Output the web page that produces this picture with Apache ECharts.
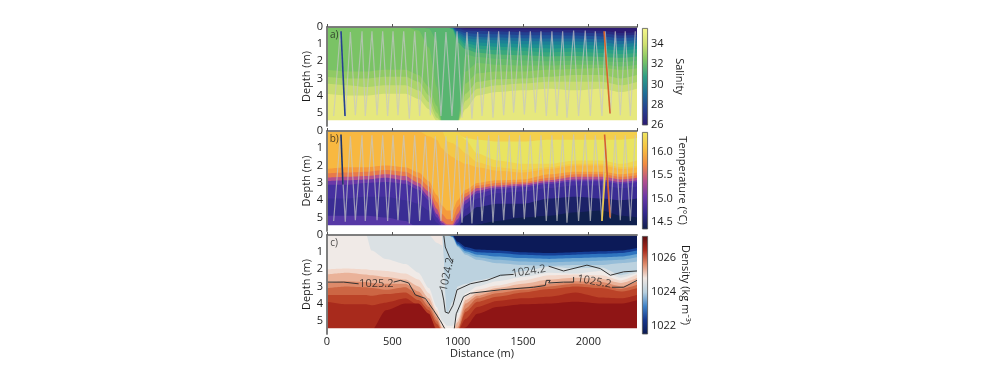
<!DOCTYPE html>
<html><head><meta charset="utf-8">
<style>html,body{margin:0;padding:0;background:#fff}#c{width:998px;height:381px}#c canvas{filter:blur(0.5px)}</style>
<script src="https://cdn.jsdelivr.net/npm/echarts@6/dist/echarts.min.js"></script>
</head><body><div id="c"></div>
<script>
// ---------- Salinity: depth of the upper edge of each filled level ----------
const salDist = [0,150,300,450,600,700,780,840,880,920,960,1000,1060,1150,1300,1500,1700,1900,2100,2250,2375];
const sal0 = [0,0,0,0,0,0,0,0,0,0,0,0,0,0,0,0,0,0,0,0,0];
const sal1 = [0,0,0,0,0,0,0,0,0,0,.01,.05,.1,.12,.14,.15,.16,.18,.22,.35,.3];
const sal2 = [0,0,0,0,0,0,0,0,0,0,.02,.1,.2,.22,.27,.3,.3,.32,.37,.5,.45];
const sal3 = [0,0,0,0,0,0,0,0,0,0,.03,.2,.35,.4,.43,.48,.48,.5,.55,.65,.6];
const sal4 = [0,0,0,0,0,0,0,0,0,0,.04,.3,.5,.58,.62,.65,.67,.67,.72,.82,.75];
const sal5 = [0,0,0,0,0,0,0,0,0,0,.05,.4,.65,.72,.78,.82,.85,.85,.9,1,.92];
const sal6 = [0,0,0,0,0,0,0,0,0,0,.07,.5,.8,.9,.95,1,1.03,1.03,1.08,1.18,1.1];
const sal7 = [0,0,0,0,0,0,0,0,0,0,.09,.6,.95,1.08,1.15,1.2,1.25,1.22,1.3,1.36,1.28];
const sal8 = [0,0,0,0,0,0,0,0,0,0,.1,.7,1.12,1.27,1.35,1.4,1.48,1.45,1.52,1.58,1.5];
const sal9 = [0,0,0,0,0,0,0,0,0,0,.15,.9,1.3,1.5,1.6,1.65,1.72,1.7,1.75,1.8,1.72];
const sal10 = [0,0,0,0,0,0,.1,.8,5.6,5.6,5.6,5.6,1.6,1.75,1.85,1.95,2,1.95,2,2.05,1.95];
const sal11 = [0,0,0,0,0,.2,1.2,3.5,5.6,5.6,5.6,5.6,2.6,2.1,2.2,2.25,2.25,2.2,2.2,2.3,2.2];
const sal12 = [2.5,2.6,2.6,2.5,2.5,2.8,3.5,4.6,5.6,5.6,5.6,5.6,3.3,2.7,2.6,2.6,2.5,2.45,2.4,2.5,2.4];
const sal13 = [2.9,3,3,2.9,2.9,3.2,4,5,5.6,5.6,5.6,5.6,3.9,3.2,3.05,3,2.9,2.8,2.8,3,2.8];
const sal14 = [3.3,3.4,3.5,3.4,3.4,3.7,4.4,5.3,5.6,5.6,5.6,5.6,4.3,3.6,3.4,3.3,3.2,3.2,3.2,3.4,3.2];
const sal15 = [3.9,4,4,3.9,3.9,4.2,4.8,5.5,5.6,5.6,5.6,5.6,4.8,4,3.8,3.7,3.6,3.7,3.6,3.8,3.6];
const salColors = ['#2c1a72','#2a2a80','#243f90','#20559a','#1e6c9a','#1c8096','#1d9090','#2a9f86','#3aa87c','#58b570','#68bc6c','#7ac365','#90ca64','#abd46a','#c9dd72','#e6e87e'];
// ---------- Temperature ----------
const tempDist = salDist;
const temp0 = [0,0,0,0,0,0,0,0,0,0,0,0,0,0,0,0,0,0,0,0,0];
const temp1 = [0,0,0,0,0,0,0,0,0,0,0,.2,.4,.5,.6,.6,.5,.5,.5,.5,.4];
const temp162 = [0,0,0,0,0,0,0,0,0,0,0,.1,.5,1.3,1.7,1.9,1.9,1.7,1.7,1.9,1.7];
const temp161 = [0,0,0,0,0,0,0,0,0,.6,.7,.9,1.3,1.8,2.1,2.25,2.1,1.9,1.9,2.1,2];
const temp160 = [0,0,0,0,0,0,.3,.5,1,1.3,1.5,1.7,1.9,2.1,2.3,2.4,2.2,2,2,2.2,2.1];
const temp158 = [2.2,2.1,2.1,2,2.1,2.4,2.9,3.7,4.3,4.6,4.6,4,3.4,3,2.85,2.8,2.5,2.35,2.35,2.5,2.4];
const temp155 = [2.45,2.4,2.35,2.25,2.35,2.7,3.2,4.1,4.8,5.1,5.1,4.4,3.6,3.15,3,2.95,2.7,2.5,2.5,2.65,2.55];
const temp152 = [2.7,2.65,2.6,2.5,2.6,3,3.5,4.5,5.2,5.4,5.4,4.8,3.8,3.3,3.15,3.05,2.85,2.65,2.65,2.8,2.7];
const temp150 = [2.9,2.85,2.8,2.7,2.85,3.2,3.8,4.8,5.3,5.5,5.5,5.1,4,3.45,3.25,3.15,2.95,2.8,2.8,2.95,2.85];
const temp148 = [3.1,3.1,3,2.95,3.05,3.4,4,5,5.45,5.6,5.6,5.3,4.2,3.6,3.35,3.25,3.05,2.9,2.9,3.05,2.95];
const temp147 = [3.9,3.9,3.8,3.8,4,4.2,4.6,5.3,5.6,5.6,5.6,5.4,4.5,3.9,3.6,3.5,3.3,3.15,3.15,3.3,3.2];
const temp146 = [4.9,4.9,4.9,5,5.2,5.6,5.6,5.6,5.6,5.6,5.6,5.6,5.6,5.6,5.6,5.6,5.6,5.6,5.6,5.6,5.6];
const temp145 = [5.6,5.6,5.6,5.6,5.6,5.6,5.6,5.6,5.6,5.6,5.6,5.6,4.9,4.4,4.2,4.2,3.9,3.8,3.9,4,3.9];
const temp144 = [5.6,5.6,5.6,5.6,5.6,5.6,5.6,5.6,5.6,5.6,5.6,5.6,5.6,5.4,5.2,5,4.9,4.7,4.6,4.9,5];
const tempColors = ['#f4cf4c','#e9e460','#f0d64e','#f5c846','#f8b840','#f59a3c','#e87a4a','#b5508c','#6a38a8','#4630a0','#3a2d94','#5638a6','#1c2268','#10204e'];
// ---------- Density ----------
const densDist = [0,150,300,340,450,600,700,780,840,880,920,960,1000,1060,1150,1300,1500,1700,1900,2100,2250,2375];
const dens1 = [0,0,0,0,0,0,0,0,0,0,0,0,0,0,0,0,0,0,0,0,0,0];
const dens2 = [0,0,0,0,0,0,0,0,0,0,0,0,.4,.7,.85,.9,1,1.05,1,.95,.9,.75];
const dens3 = [0,0,0,0,0,0,0,0,0,0,0,.05,.5,.85,1,1.05,1.15,1.2,1.15,1.1,1.05,.9];
const dens4 = [0,0,0,0,0,0,0,0,0,0,0,.1,.6,.95,1.15,1.25,1.35,1.4,1.35,1.3,1.25,1.1];
const dens4b = [0,0,0,0,0,0,0,0,0,0,0,.12,.65,1.05,1.3,1.45,1.55,1.6,1.55,1.5,1.45,1.3];
const dens5 = [0,0,0,0,0,0,0,0,0,0,0,.15,.7,1.15,1.45,1.65,1.75,1.8,1.75,1.75,1.65,1.55];
const densPocket = [0,0,0,0,0,0,0,0,0,0,5.6,5.6,5.6,5.6,5.6,5.6,5.6,5.6,5.6,5.6,5.6,5.6];
const dens6 = [0,0,0,0,0,0,0,0,.45,.6,4.6,3.9,3,2.85,2.65,2.45,2.1,1.85,1.95,1.9,2.35,2.1];
const dens7 = [0,0,0,.9,1.4,1.7,2.2,3.1,4.2,5,5.3,5.3,4.6,3.4,3,2.7,2.45,2.2,2.25,2.1,2.5,2.2];
const dens8 = [2,1.95,2,2.05,2.1,2.25,2.6,3.4,4.4,5.2,5.6,5.6,4.9,3.6,3.2,2.95,2.65,2.35,2.3,2.35,2.65,2.3];
const dens9 = [2.3,2.2,2.3,2.35,2.45,2.6,3,3.7,4.6,5.4,5.6,5.6,5.1,3.8,3.4,3.1,2.85,2.6,2.5,2.55,2.8,2.5];
const dens10 = [2.8,2.7,2.75,2.8,2.85,2.85,3.3,4,4.8,5.5,5.6,5.6,5.4,4,3.55,3.25,3.05,2.85,2.7,2.75,3,2.7];
const dens11 = [3.1,3,3.05,3.1,3.2,3.05,3.5,4.2,5,5.6,5.6,5.6,5.6,4.3,3.7,3.4,3.2,3,2.85,2.95,3.15,2.9];
const dens12 = [3.5,3.5,3.5,3.55,3.45,3.35,3.8,4.4,5.2,5.6,5.6,5.6,5.6,4.5,3.9,3.6,3.35,3.15,3,3.1,3.3,3.1];
const dens13 = [3.9,4.05,4.05,4.1,3.95,3.7,4.1,4.7,5.5,5.6,5.6,5.6,5.6,4.9,4.2,3.85,3.7,3.6,3.35,3.65,3.7,3.5];
const dens14 = [5.6,5.6,5.6,5.6,4.4,4,4,4.6,5.6,5.6,5.6,5.6,5.6,5.4,4.6,4.2,4.05,4,3.9,4,4,3.8];
const densColors = ['#0c1a58','#153f96','#2f74bf','#6ea8d3','#96bdd8','#bcd2df','#f0e6e2','#dbe1e4','#f0eae7','#f2d7ca','#eab299','#dd8a6a','#cc6644','#bb4328','#a82a1c','#8f1515'];
// ---------- Density contours (distance, depth) ----------
const contour1025West1 = [[0,2.75],[128,2.75],[242,2.85]];
const contour1025West2 = [[510,2.75],[561,2.65],[625,2.8],[676,3.5],[752,3.7],[816,4.4],[867,5],[900,5.45]];
const contour1025East1 = [[974,5.45],[989,4.6],[1045,3.6],[1096,3.4],[1326,3.2],[1581,3.05],[1670,2.95],[1678,2.65],[1708,2.65],[1696,2.8],[1810,2.75],[1887,2.75],[1887,2.45]];
const contour1025East2 = [[2180,3.05],[2270,3.05],[2372,2.65]];
const contour1024Top = [[893,0],[905,.7],[938,1.3],[964,1.57]];
const contour1024Mid = [[877,3.2],[893,3.8],[905,4.5],[931,4.57],[964,4.1],[995,3.2],[1096,2.85],[1224,2.65],[1326,2.35],[1428,2.3]];
const contour1024East = [[1696,1.82],[1810,2.1],[1989,1.76],[2091,1.96],[2168,2.35],[2270,2.15],[2372,2.1]];
// ---------- Ship track (distance, depth) ----------
const trackDist = [51,102,140,179,217,268,293,344,383,426,464,505,543,587,630,671,709,752,791,829,872,910,956,995,1033,1071,1109,1153,1186,1237,1270,1313,1352,1395,1428,1474,1510,1556,1594,1637,1678,1721,1760,1803,1836,1887,1925,1976,2015,2053,2104,2129,2168,2206,2244,2282,2321,2359];
const trackDepth = [5.2,.25,5.25,.3,5.15,.25,5.2,.25,5.15,.25,5.2,.25,5.15,.25,5.35,.25,5.2,.3,5.15,.3,5.2,.3,5.2,.25,5.3,.3,5.35,.3,5.2,.25,5.3,.25,5.15,.25,5,.25,5.1,.25,5,.25,5.2,.25,5.2,.25,5.3,.2,5.2,.2,5.2,.25,5.2,.25,5.05,.25,5.15,.25,5.2,.25];
const blueLineA = [[107,.25],[138,5.2]];
const orangeLineA = [[2120,.25],[2166,5.05]];
const blueLineB = [[107,.2],[122,3.1]];
const orangeLineB = [[2124,.2],[2166,5]];
const yellowLineB = [[2104,5.2],[2129,2.4]];
// ---------- Colour bars ----------
const salTicks = [26,28,30,32,34];
const tempTicks = [14.5,15,15.5,16];
const densTicks = [1022,1024,1026];
const salBar = ['#f6f78c','#cfe06f','#7cc464','#2f9e86','#1f6f96','#25408f','#2c1a72'];
const tempBar = ['#eee862','#f8c13f','#f08a42','#b5508c','#6a38a8','#33288c','#0f1f4a'];
const densBar = ['#5a0d10','#a82a1c','#dd8a6a','#f0e6e1','#b8d0de','#3f82c6','#15358a','#0c1a50'];

const FONT = '"Open Sans", "Noto Sans", sans-serif';
const TXT = '#1c1c1c', FRAME = '#777777';
const XMAX = 2372, YMAX = 5.78, BOTTOM_WHITE = 5.45;
const panels = [
  {top:27, h:99, letter:'a)', dist:salDist, levels:[sal0,sal1,sal2,sal3,sal4,sal5,sal6,sal7,sal8,sal9,sal10,sal11,sal12,sal13,sal14,sal15], colors:salColors,
   cb:{min:25.98,max:35.6,ticks:salTicks,stops:salBar,name:'Salinity',top:28,h:97,dec:0}},
  {top:131, h:100, letter:'b)', dist:tempDist, levels:[temp0,temp1,temp162,temp161,temp160,temp158,temp155,temp152,temp150,temp148,temp147,temp146,temp145,temp144], colors:tempColors,
   cb:{min:14.34,max:16.43,ticks:tempTicks,stops:tempBar,name:'Temperature (°C)',top:132,h:97,dec:1}},
  {top:235, h:99, letter:'c)', dist:densDist, levels:[dens1,dens2,dens3,dens4,dens4b,dens5,densPocket,dens6,dens7,dens8,dens9,dens10,dens11,dens12,dens13,dens14], colors:densColors,
   cb:{min:1021.53,max:1027.3,ticks:densTicks,stops:densBar,name:'Density (kg m⁻³)',top:236,h:98,dec:0}}
];
const grid=[], xAxis=[], yAxis=[], series=[];
function line(xi,yi,data,color,width,z){
  series.push({type:'line',xAxisIndex:xi,yAxisIndex:yi,data,showSymbol:false,symbol:'none',silent:true,
    lineStyle:{color,width},z:z,animation:false});
}
function note(xi,yi,pt,text,rotate,size){
  series.push({type:'scatter',xAxisIndex:xi,yAxisIndex:yi,data:[pt],symbolSize:0,silent:true,z:8,animation:false,
    label:{show:true,position:'inside',formatter:text,rotate:rotate||0,color:TXT,fontFamily:FONT,fontSize:size||11}});
}
panels.forEach((p,i)=>{
  const gi=grid.length;
  grid.push({left:327,width:310,top:p.top,height:p.h,show:false});
  const xi=xAxis.length, yi=yAxis.length;
  const isLast=i===2;
  xAxis.push({type:'value',gridIndex:gi,min:0,max:XMAX,interval:500,position:'bottom',z:6,
    name:isLast?'Distance (m)':'',nameLocation:'middle',nameGap:12,nameTextStyle:{color:TXT,fontFamily:FONT,fontSize:11},
    axisLine:{show:true,lineStyle:{color:FRAME,width:1.5}},axisTick:{show:true,inside:true,length:3,lineStyle:{color:'#555'}},
    splitLine:{show:false},axisLabel:{show:isLast,color:TXT,fontFamily:FONT,fontSize:11,margin:2,hideOverlap:false,showMaxLabel:false,formatter:v=>String(v)}});
  xAxis.push({type:'value',gridIndex:gi,min:0,max:XMAX,position:'top',z:6,
    axisLine:{show:true,lineStyle:{color:FRAME,width:1.5}},axisTick:{show:false},splitLine:{show:false},axisLabel:{show:false}});
  yAxis.push({type:'value',gridIndex:gi,min:0,max:YMAX,interval:1,inverse:true,position:'left',z:6,
    name:'Depth (m)',nameLocation:'middle',nameGap:10,nameRotate:90,nameTextStyle:{color:TXT,fontFamily:FONT,fontSize:11},
    axisLine:{show:true,lineStyle:{color:FRAME,width:1.5}},axisTick:{show:false},splitLine:{show:false},
    axisLabel:{color:TXT,fontFamily:FONT,fontSize:11,margin:4,showMaxLabel:false}});
  yAxis.push({type:'value',gridIndex:gi,min:0,max:YMAX,inverse:true,position:'right',z:6,
    axisLine:{show:true,lineStyle:{color:FRAME,width:1.5}},axisTick:{show:false},splitLine:{show:false},axisLabel:{show:false}});
  p.levels.forEach((lv,k)=>{
    series.push({type:'line',xAxisIndex:xi,yAxisIndex:yi,data:lv.map((d,j)=>[p.dist[j],d]),
      smooth:0.25,smoothMonotone:'x',showSymbol:false,symbol:'none',silent:true,animation:false,z:2,
      lineStyle:{width:0},areaStyle:{origin:'end',color:p.colors[k],opacity:1}});
  });
  series.push({type:'line',xAxisIndex:xi,yAxisIndex:yi,data:[[0,BOTTOM_WHITE],[XMAX,BOTTOM_WHITE]],showSymbol:false,symbol:'none',silent:true,animation:false,z:3,
    lineStyle:{width:0},areaStyle:{origin:'end',color:'#ffffff',opacity:1}});
  if(i<2){
    line(xi,yi,trackDist.map((x,j)=>[x,trackDepth[j]]),'rgba(196,198,200,0.7)',1.2,4);
  }
  if(i===0){ line(xi,yi,blueLineA,'#24408f',1.6,5); line(xi,yi,orangeLineA,'#d8642a',1.6,5); }
  if(i===1){ line(xi,yi,blueLineB,'#1f3566',1.6,5); line(xi,yi,yellowLineB,'#ecc84a',1.6,5); line(xi,yi,orangeLineB,'#d8602a',1.6,5); }
  if(i===2){
    [contour1025West1,contour1025West2,contour1025East1,contour1025East2,contour1024Top,contour1024Mid,contour1024East].forEach(c=>line(xi,yi,c,'#333333',1,5));
    note(xi,yi,[377,2.85],'1025.2',0);
    note(xi,yi,[918,2.3],'1024.2',78);
    note(xi,yi,[1543,2.12],'1024.2',9);
    note(xi,yi,[2045,2.72],'1025.2',-10);
  }
  note(xi,yi,[55,.45],p.letter,0,10);
  const cb=p.cb, cgi=grid.length;
  grid.push({left:642,width:6,top:cb.top,height:cb.h,show:false});
  const cxi=xAxis.length, cyi=yAxis.length;
  xAxis.push({type:'category',gridIndex:cgi,data:['c'],show:false});
  yAxis.push({type:'value',gridIndex:cgi,min:cb.min,max:cb.max,position:'right',
    name:cb.name,nameLocation:'middle',nameRotate:-90,nameGap:26,nameTextStyle:{color:TXT,fontFamily:FONT,fontSize:11},
    axisLine:{show:false},splitLine:{show:false},
    axisTick:{show:false,customValues:cb.ticks},
    axisLabel:{customValues:cb.ticks,color:TXT,fontFamily:FONT,fontSize:11,margin:3,formatter:v=>Number(v).toFixed(cb.dec)}});
  series.push({type:'bar',xAxisIndex:cxi,yAxisIndex:cyi,data:[cb.max],barWidth:'100%',silent:true,animation:false,
    itemStyle:{borderColor:'#555',borderWidth:.8,color:new echarts.graphic.LinearGradient(0,0,0,1,cb.stops.map((c,j)=>({offset:j/(cb.stops.length-1),color:c})))}});
});
const chart=echarts.init(document.getElementById('c'),null,{renderer:'canvas'});
chart.setOption({animation:false,backgroundColor:'#fff',grid,xAxis,yAxis,series});
</script></body></html>
